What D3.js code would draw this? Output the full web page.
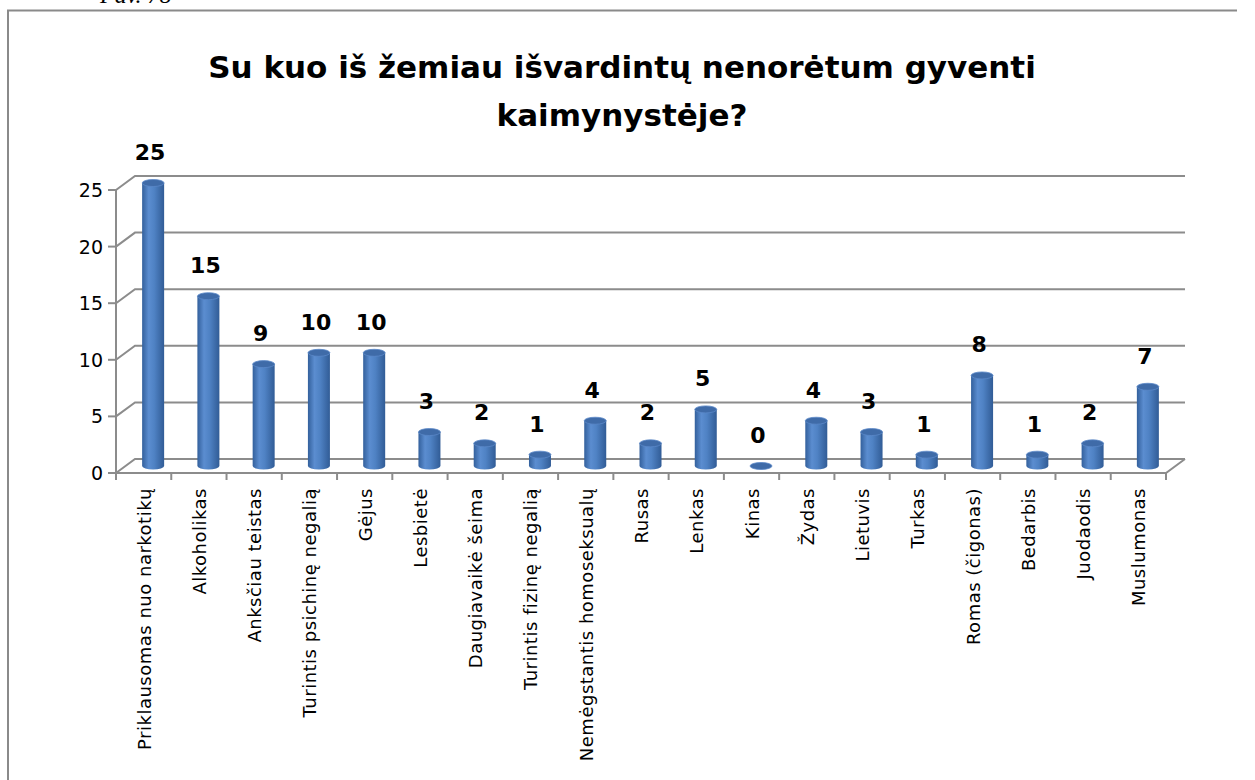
<!DOCTYPE html>
<html>
<head>
<meta charset="utf-8">
<script src="https://cdn.jsdelivr.net/npm/d3@7"></script>
<style>
  body { margin: 0; background: #fff; }
  text { font-family: "Comic Sans MS", "DejaVu Sans", sans-serif; }
</style>
</head>
<body>
<div id="chart"></div>
<script>
// data
var categories = ["Priklausomas nuo narkotikų", "Alkoholikas", "Anksčiau teistas",
  "Turintis psichinę negalią", "Gėjus", "Lesbietė", "Daugiavaikė šeima",
  "Turintis fizinę negalią", "Nemėgstantis homoseksualų", "Rusas", "Lenkas",
  "Kinas", "Žydas", "Lietuvis", "Turkas", "Romas (čigonas)", "Bedarbis",
  "Juodaodis", "Muslumonas"];
var values = [25, 15, 9, 10, 10, 3, 2, 1, 4, 2, 5, 0, 4, 3, 1, 8, 1, 2, 7];
var yTicks = [0, 5, 10, 15, 20, 25];
var titleLines = ["Su kuo iš žemiau išvardintų nenorėtum gyventi", "kaimynystėje?"];

var W = 1255, H = 780;
// 3d depth offset (back wall relative to front)
var dx = 19, dy = -14;

var data = categories.map(function(c, i) { return {cat: c, v: values[i]}; });

var svg = d3.select("#chart").append("svg")
  .attr("width", W).attr("height", H);

// gradient for the cylinders
var defs = svg.append("defs");
var grad = defs.append("linearGradient").attr("id", "cyl")
  .attr("x1", "0%").attr("x2", "100%").attr("y1", "0%").attr("y2", "0%");
grad.append("stop").attr("offset", "0%").attr("stop-color", "#33609c");
grad.append("stop").attr("offset", "30%").attr("stop-color", "#5b8dd0");
grad.append("stop").attr("offset", "55%").attr("stop-color", "#4f82c4");
grad.append("stop").attr("offset", "100%").attr("stop-color", "#315c96");

// page caption, cut at the top
svg.append("text")
  .attr("x", 100).attr("y", 3)
  .style("font-family", "'Liberation Serif', serif")
  .style("font-style", "italic")
  .style("font-size", "24px")
  .text("Pav. 78");

// frame
svg.append("path")
  .attr("d", "M8,782 L8,10.5 L1237,10.5")
  .attr("fill", "none").attr("stroke", "#8a8a8a").attr("stroke-width", 2);

// title
svg.selectAll(".title")
  .data(titleLines)
  .enter().append("text")
    .attr("class", "title")
    .attr("x", 622)
    .attr("y", function(d, i) { return 78 + i * 48; })
    .attr("text-anchor", "middle")
    .style("font-size", "31px")
    .style("font-weight", "bold")
    .text(function(d) { return d; });

// scales (front plane)
var x = d3.scaleBand()
  .domain(categories)
  .range([116, 1166]);

var y = d3.scaleLinear()
  .domain([0, 25])
  .range([473, 190]);

var grid = svg.append("g");

// back wall gridlines + side wall diagonals
grid.selectAll(".gl")
  .data(yTicks)
  .enter().append("path")
    .attr("fill", "none")
    .attr("stroke", "#8c8c8c")
    .attr("stroke-width", 2)
    .attr("d", function(d) {
      var yf = y(d);
      return "M" + 116 + "," + yf + "L" + (116 + dx) + "," + (yf + dy) +
        "L" + (1166 + dx) + "," + (yf + dy);
    });

// floor front edge and right diagonal
grid.append("path")
  .attr("fill", "none").attr("stroke", "#8c8c8c").attr("stroke-width", 2)
  .attr("d", "M116," + y(0) + "L1166," + y(0) + "L" + (1166 + dx) + "," + (y(0) + dy));

// front y axis line
grid.append("line")
  .attr("x1", 116).attr("x2", 116)
  .attr("y1", y(0)).attr("y2", y(25))
  .attr("stroke", "#8c8c8c").attr("stroke-width", 2);

// y ticks
grid.selectAll(".yt")
  .data(yTicks)
  .enter().append("line")
    .attr("x1", 108).attr("x2", 116)
    .attr("y1", function(d) { return y(d); })
    .attr("y2", function(d) { return y(d); })
    .attr("stroke", "#8c8c8c").attr("stroke-width", 2);

svg.selectAll(".ylab")
  .data(yTicks)
  .enter().append("text")
    .attr("x", 103)
    .attr("y", function(d) { return y(d) + 7; })
    .attr("text-anchor", "end")
    .style("font-size", "19px")
    .text(function(d) { return d; });

// x ticks
grid.selectAll(".xt")
  .data(d3.range(categories.length + 1))
  .enter().append("line")
    .attr("x1", function(d) { return 116 + d * x.bandwidth(); })
    .attr("x2", function(d) { return 116 + d * x.bandwidth(); })
    .attr("y1", y(0)).attr("y2", y(0) + 7)
    .attr("stroke", "#8c8c8c").attr("stroke-width", 2);

// x labels
svg.selectAll(".xlab")
  .data(categories)
  .enter().append("text")
    .attr("transform", function(d) {
      return "translate(" + (x(d) + x.bandwidth() / 2 + 7) + ",488) rotate(-90)";
    })
    .attr("text-anchor", "end")
    .style("font-size", "18px")
    .style("letter-spacing", "0.5px")
    .text(function(d) { return d; });

// cylinders sit in the middle of the depth
var bw = 22, ry = 3.5;
function cx(d) { return x(d.cat) + x.bandwidth() / 2 + dx / 2; }
function cy(v) { return y(v) + dy / 2; }

var bars = svg.append("g").selectAll("g")
  .data(data)
  .enter().append("g");

bars.filter(function(d) { return d.v > 0; })
  .append("path")
    .attr("fill", "url(#cyl)")
    .attr("d", function(d) {
      var c = cx(d), top = cy(d.v), bot = cy(0);
      return "M" + (c - bw / 2) + "," + top +
        "L" + (c - bw / 2) + "," + bot +
        "A" + (bw / 2) + "," + ry + " 0 0 0 " + (c + bw / 2) + "," + bot +
        "L" + (c + bw / 2) + "," + top + "Z";
    });

bars.append("ellipse")
  .attr("cx", function(d) { return cx(d); })
  .attr("cy", function(d) { return cy(d.v); })
  .attr("rx", bw / 2)
  .attr("ry", ry)
  .attr("fill", "#3f6ba8")
  .attr("stroke", "#5a88c8")
  .attr("stroke-width", 0.8);

// value labels
bars.append("text")
  .attr("x", function(d) { return cx(d) - 3; })
  .attr("y", function(d) { return cy(d.v) - 23; })
  .attr("text-anchor", "middle")
  .style("font-size", "22px")
  .style("font-weight", "bold")
  .text(function(d) { return d.v; });
</script>
</body>
</html>
